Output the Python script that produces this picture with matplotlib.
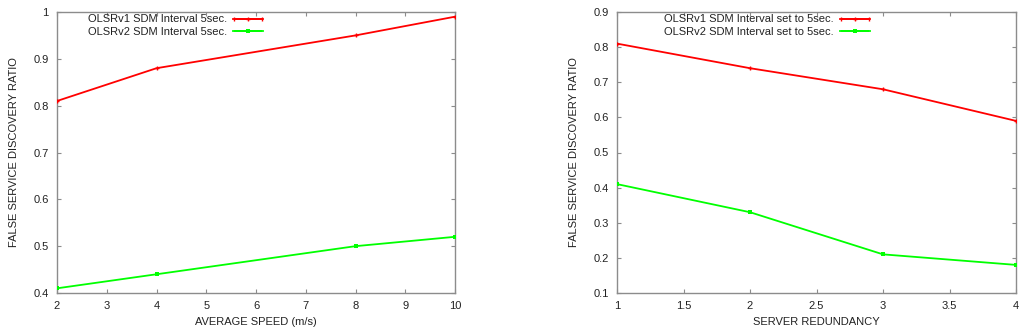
import numpy as np
import matplotlib
matplotlib.use("Agg")
import matplotlib.pyplot as plt
from matplotlib.container import ErrorbarContainer
from matplotlib.legend_handler import HandlerErrorbar

plt.rcParams['font.family'] = ['Liberation Sans', 'DejaVu Sans']

speed = [2, 4, 8, 10]
speed_v1 = [0.81, 0.88, 0.95, 0.99]
speed_v2 = [0.41, 0.44, 0.50, 0.52]

redund = [1, 2, 3, 4]
red_v1 = [0.81, 0.74, 0.68, 0.59]
red_v2 = [0.41, 0.33, 0.21, 0.18]

labels_left = ["OLSRv1 SDM Interval 5sec.", "OLSRv2 SDM Interval 5sec."]
labels_right = ["OLSRv1 SDM Interval set to 5sec.", "OLSRv2 SDM Interval set to 5sec."]

RED = '#ff0000'
GREEN = '#00ff00'
FRAME = '#8c8c8c'
TXT = '#222222'
FS = 8
HL = 2.7

W, H = 1024, 332
fig = plt.figure(figsize=(W/100, H/100), dpi=100)
ax1 = fig.add_axes([57/W, 1-293/H, (455-57)/W, (293-12)/H])
ax2 = fig.add_axes([617/W, 1-293/H, (1016-617)/W, (293-12)/H])


def style(ax, xlim, ylim, xticks, yticks, xlabel):
    ax.set_xlim(*xlim)
    ax.set_ylim(*ylim)
    ax.set_xticks(xticks)
    ax.set_yticks(yticks)
    ax.set_xticklabels([f"{t:g}" for t in xticks])
    ax.set_yticklabels([f"{t:g}" for t in yticks])
    for s in ax.spines.values():
        s.set_color(FRAME)
        s.set_linewidth(1.0)
    ax.tick_params(direction='in', length=3, width=0.8, color=FRAME,
                   top=True, right=True, labelsize=FS, labelcolor=TXT, pad=6)
    ax.set_xlabel(xlabel, fontsize=FS, color=TXT, labelpad=4)
    ax.set_ylabel("FALSE SERVICE DISCOVERY RATIO", fontsize=FS, color=TXT, labelpad=10)


def draw(ax, x, y1, y2, labels, legx):
    ax.plot(x, y1, color=RED, lw=1.3, marker='+', ms=3, mew=1.0, zorder=3)
    ax.plot(x, y2, color=GREEN, lw=1.3, marker='s', ms=2.2, mew=0, zorder=3)
    h1 = ax.errorbar([np.nan], [np.nan], xerr=[1], color=RED, lw=1.3, capsize=1.5,
                     marker='+', ms=3, mew=1.0)
    h2 = ax.errorbar([np.nan], [np.nan], xerr=[1], color=GREEN, lw=1.3, capsize=1.5,
                     marker='s', ms=2.5, mew=0)
    leg = ax.legend([h1, h2], labels, loc='upper right',
                    bbox_to_anchor=(legx, 1 - 2.5/281), frameon=False,
                    markerfirst=False, fontsize=FS, handlelength=HL,
                    handletextpad=0.55, borderaxespad=0, borderpad=0,
                    labelspacing=0.2,
                    handler_map={ErrorbarContainer: HandlerErrorbar(xerr_size=HL/2 - 0.05)})
    for t in leg.get_texts():
        t.set_color(TXT)


style(ax1, (2, 10), (0.4, 1.0), [2, 3, 4, 5, 6, 7, 8, 9, 10],
      [0.4, 0.5, 0.6, 0.7, 0.8, 0.9, 1.0], "AVERAGE SPEED (m/s)")
draw(ax1, speed, speed_v1, speed_v2, labels_left, (263-57)/398)

style(ax2, (1, 4), (0.1, 0.9), [1, 1.5, 2, 2.5, 3, 3.5, 4],
      [0.1, 0.2, 0.3, 0.4, 0.5, 0.6, 0.7, 0.8, 0.9], "SERVER REDUNDANCY")
draw(ax2, redund, red_v1, red_v2, labels_right, (870-617)/399)

fig.savefig("out.png", dpi=100)
